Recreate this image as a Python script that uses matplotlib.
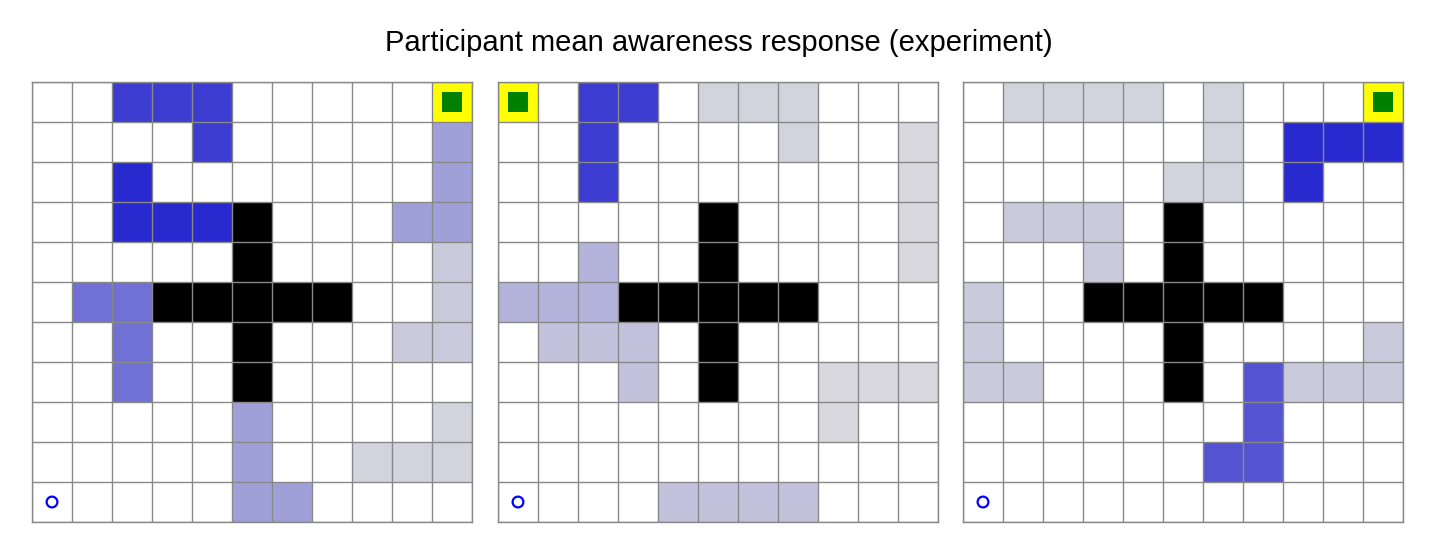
import numpy as np
import matplotlib
matplotlib.use("Agg")
import matplotlib.pyplot as plt
from matplotlib.colors import LinearSegmentedColormap, ListedColormap

plt.rcParams['font.family'] = ['Liberation Sans', 'DejaVu Sans']

title = "Participant mean awareness response (experiment)"
grid_size = 11

# wall cells (row, col), same in all three mazes
wall_cells = [(3, 5), (4, 5), (5, 3), (5, 4), (5, 5), (5, 6), (5, 7), (6, 5), (7, 5)]

start_cells = [(10, 0), (10, 0), (10, 0)]
goal_cells = [(0, 10), (0, 0), (0, 10)]

# mean awareness per cell (row, col): value
awareness_1 = {
    (0, 2): 0.85, (0, 3): 0.85, (0, 4): 0.85,
    (1, 4): 0.85, (1, 10): 0.32,
    (2, 2): 0.95, (2, 10): 0.32,
    (3, 2): 0.95, (3, 3): 0.95, (3, 4): 0.95, (3, 9): 0.32, (3, 10): 0.32,
    (4, 10): 0.10,
    (5, 1): 0.57, (5, 2): 0.57, (5, 10): 0.10,
    (6, 2): 0.57, (6, 9): 0.10, (6, 10): 0.10,
    (7, 2): 0.57,
    (8, 5): 0.32, (8, 10): 0.05,
    (9, 5): 0.32, (9, 8): 0.05, (9, 9): 0.05, (9, 10): 0.05,
    (10, 5): 0.32, (10, 6): 0.32,
}
awareness_2 = {
    (0, 2): 0.85, (0, 3): 0.85, (0, 5): 0.05, (0, 6): 0.05, (0, 7): 0.05,
    (1, 2): 0.85, (1, 7): 0.05, (1, 10): 0.02,
    (2, 2): 0.85, (2, 10): 0.02,
    (3, 10): 0.02,
    (4, 2): 0.22, (4, 10): 0.02,
    (5, 0): 0.22, (5, 1): 0.22, (5, 2): 0.22,
    (6, 1): 0.14, (6, 2): 0.14, (6, 3): 0.14,
    (7, 3): 0.14, (7, 8): 0.02, (7, 9): 0.02, (7, 10): 0.02,
    (8, 8): 0.02,
    (10, 4): 0.14, (10, 5): 0.14, (10, 6): 0.14, (10, 7): 0.14,
}
awareness_3 = {
    (0, 1): 0.05, (0, 2): 0.05, (0, 3): 0.05, (0, 4): 0.05, (0, 6): 0.05,
    (1, 6): 0.05, (1, 8): 0.95, (1, 9): 0.95, (1, 10): 0.95,
    (2, 5): 0.05, (2, 6): 0.05, (2, 8): 0.95,
    (3, 1): 0.10, (3, 2): 0.10, (3, 3): 0.10,
    (4, 3): 0.10,
    (5, 0): 0.10,
    (6, 0): 0.10, (6, 10): 0.10,
    (7, 0): 0.10, (7, 1): 0.10, (7, 7): 0.72, (7, 8): 0.10, (7, 9): 0.10, (7, 10): 0.10,
    (8, 7): 0.72,
    (9, 6): 0.72, (9, 7): 0.72,
}
awareness_all = [awareness_1, awareness_2, awareness_3]

cmap = LinearSegmentedColormap.from_list("aw", ["#dcdcde", "#2020cf"])

W, H = 1435, 554
fig = plt.figure(figsize=(W / 100, H / 100), dpi=100)
lefts = [32, 498, 963]
size = 440
bottom_px = 554 - 522

for k in range(3):
    ax = fig.add_axes([lefts[k] / W, bottom_px / H, size / W, size / H])
    vals = np.full((grid_size, grid_size), np.nan)
    for (r, c), v in awareness_all[k].items():
        vals[r, c] = v
    ax.pcolormesh(np.arange(grid_size + 1), np.arange(grid_size + 1),
                  np.ma.masked_invalid(vals), cmap=cmap, vmin=0, vmax=1)
    walls = np.full((grid_size, grid_size), np.nan)
    for (r, c) in wall_cells:
        walls[r, c] = 1
    ax.pcolormesh(np.arange(grid_size + 1), np.arange(grid_size + 1),
                  np.ma.masked_invalid(walls), cmap=ListedColormap(["black"]))
    goal = np.full((grid_size, grid_size), np.nan)
    gr, gc = goal_cells[k]
    goal[gr, gc] = 1
    ax.pcolormesh(np.arange(grid_size + 1), np.arange(grid_size + 1),
                  np.ma.masked_invalid(goal), cmap=ListedColormap(["#ffff00"]))
    ax.scatter([gc + 0.5], [gr + 0.5], marker='s', s=205, color='#008000',
               linewidths=0, zorder=5)
    sr, sc = start_cells[k]
    ax.scatter([sc + 0.5], [sr + 0.5], marker='o', s=60, facecolors='none',
               edgecolors='#0000ff', linewidths=1.6, zorder=5)
    for i in range(grid_size + 1):
        ax.axhline(i, color='#888888', lw=1.0, zorder=4)
        ax.axvline(i, color='#888888', lw=1.0, zorder=4)
    ax.set_xlim(0, grid_size)
    ax.set_ylim(grid_size, 0)
    ax.set_xticks([])
    ax.set_yticks([])
    for sp in ax.spines.values():
        sp.set_color('#888888')
        sp.set_linewidth(1.0)

fig.text(719 / W, 1 - 43 / H, title, ha='center', va='center', fontsize=21)
fig.savefig("out.png", dpi=100, facecolor='white')
